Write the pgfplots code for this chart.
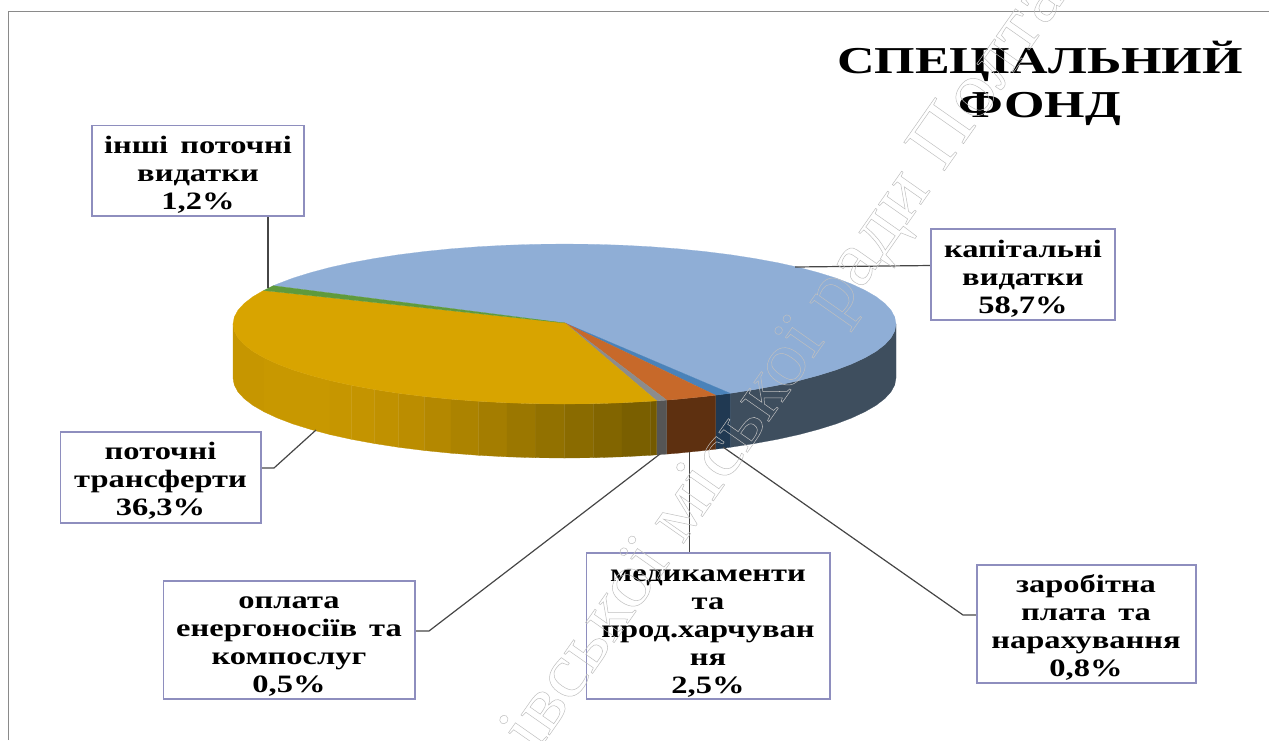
\documentclass[border=0pt]{standalone}
\usepackage{fontspec}
\setmainfont{Liberation Serif}[FakeStretch=1.3,WordSpace=1.5]
\newfontfamily\ttl{Liberation Serif}[FakeStretch=1.37]
\newfontfamily\wm{Liberation Serif}[FakeStretch=1.085]
\usepackage{pgfplots}
\pgfplotsset{compat=1.18}
\definecolor{cblue}{RGB}{143,174,214}
\definecolor{cdblue}{RGB}{74,130,185}
\definecolor{corange}{RGB}{199,105,42}
\definecolor{cgrey}{RGB}{140,140,140}
\definecolor{cyellow}{RGB}{216,164,0}
\definecolor{cgreen}{RGB}{95,154,60}
\definecolor{wblue}{RGB}{62,78,94}
\definecolor{wdblue}{RGB}{32,57,82}
\definecolor{worange}{RGB}{94,48,16}
\definecolor{wgrey}{RGB}{85,85,85}
\definecolor{boxc}{RGB}{142,142,190}
\definecolor{leader}{RGB}{70,70,70}
\definecolor{frame}{RGB}{138,138,138}
\newcommand{\lbl}[3]{\node[align=center,font=\fontsize{25}{28}\selectfont\bfseries,inner sep=0pt] at (axis cs:#1,#2) {#3};}
\newcommand{\bx}[4]{\draw[boxc,line width=1.5pt,fill=white] (axis cs:#1,#2) rectangle (axis cs:#3,#4);}
\newcommand{\strip}[4]{\addplot[fill={rgb,255:red,#1;green,#2;blue,#3},draw={rgb,255:red,#1;green,#2;blue,#3},line width=0.3pt,mark=none] coordinates {#4} -- cycle;}
\begin{document}
\begin{tikzpicture}
\useasboundingbox (0,0) rectangle (1269pt,740pt);
\begin{axis}[
  at={(0,0)},anchor=south west,
  width=1269pt,height=740pt,scale only axis,
  xmin=0,xmax=1269,ymin=0,ymax=740,y dir=reverse,
  axis lines=none,clip=true,
]
% frame
\addplot[frame,line width=1.5pt,mark=none] coordinates {(8.5,740)(8.5,11.5)(1269,11.5)};
% walls
\addplot[fill=wblue,draw=wblue,line width=0.2pt,mark=none] coordinates {(896,324)(894.7,331)(891,337.9)(884.7,344.7)(876,351.4)(864.9,357.8)(851.6,364)(836.1,369.9)(818.4,375.4)(798.9,380.6)(777.6,385.3)(754.7,389.5)(730.3,393.3)(730.3,447.3)(754.7,443.5)(777.6,439.3)(798.9,434.6)(818.4,429.4)(836.1,423.9)(851.6,418)(864.9,411.8)(876,405.4)(884.7,398.7)(891,391.9)(894.7,385)(896,378)} -- cycle;
\addplot[fill=wdblue,draw=wdblue,line width=0.2pt,mark=none] coordinates {(730.3,393.3)(715.5,395.2)(715.5,449.2)(730.3,447.3)} -- cycle;
\addplot[fill=worange,draw=worange,line width=0.2pt,mark=none] coordinates {(715.5,395.2)(704.6,396.5)(677.9,399.2)(666.7,400.1)(666.7,454.1)(677.9,453.2)(704.6,450.5)(715.5,449.2)} -- cycle;
\addplot[fill=wgrey,draw=wgrey,line width=0.2pt,mark=none] coordinates {(666.7,400.1)(656.7,400.8)(656.7,454.8)(666.7,454.1)} -- cycle;
% yellow wall, strip by strip
\strip{198}{150}{0}{(233,324)(234.3,331)(238,337.9)(244.3,344.7)(253,351.4)(264.1,357.8)(264.1,411.8)(253,405.4)(244.3,398.7)(238,391.9)(234.3,385)(233,378)}
\strip{200}{152}{0}{(264.1,357.8)(277.4,364)(292.9,369.9)(292.9,423.9)(277.4,418)(264.1,411.8)}
\strip{200}{152}{0}{(292.9,369.9)(310.6,375.4)(330.1,380.6)(330.1,434.6)(310.6,429.4)(292.9,423.9)}
\strip{198}{150}{0}{(330.1,380.6)(351.4,385.3)(351.4,439.3)(330.1,434.6)}
\strip{196}{148}{0}{(351.4,385.3)(374.3,389.5)(374.3,443.5)(351.4,439.3)}
\strip{192}{145}{0}{(374.3,389.5)(398.7,393.3)(398.7,447.3)(374.3,443.5)}
\strip{187}{141}{0}{(398.7,393.3)(424.4,396.5)(424.4,450.5)(398.7,447.3)}
\strip{180}{136}{0}{(424.4,396.5)(451.1,399.2)(451.1,453.2)(424.4,450.5)}
\strip{172}{131}{0}{(451.1,399.2)(478.7,401.3)(478.7,455.3)(451.1,453.2)}
\strip{164}{125}{0}{(478.7,401.3)(507,402.8)(507,456.8)(478.7,455.3)}
\strip{155}{119}{0}{(507,402.8)(535.6,403.7)(535.6,457.7)(507,456.8)}
\strip{146}{113}{0}{(535.6,403.7)(564.5,404)(564.5,458)(535.6,457.7)}
\strip{138}{107}{0}{(564.5,404)(593.4,403.7)(593.4,457.7)(564.5,458)}
\strip{130}{101}{0}{(593.4,403.7)(622,402.8)(622,456.8)(593.4,457.7)}
\strip{122}{95}{0}{(622,402.8)(650.3,401.3)(650.3,455.3)(622,456.8)}
\strip{116}{90}{0}{(650.3,401.3)(656.7,400.8)(656.7,454.8)(650.3,455.3)}
% top faces
\addplot[fill=cblue,draw=cblue,line width=0.2pt,mark=none] coordinates {(565,323)(730.3,393.3)(754.7,389.5)(777.6,385.3)(798.9,380.6)(818.4,375.4)(836.1,369.9)(851.6,364)(864.9,357.8)(876,351.4)(884.7,344.7)(891,337.9)(894.7,331)(896,324)(894.7,317)(891,310.1)(884.7,303.3)(876,296.6)(864.9,290.2)(851.6,284)(836.1,278.1)(818.4,272.6)(798.9,267.4)(777.6,262.7)(754.7,258.5)(730.3,254.7)(704.6,251.5)(677.9,248.8)(650.3,246.7)(622,245.2)(593.4,244.3)(564.5,244)(535.6,244.3)(507,245.2)(478.7,246.7)(451.1,248.8)(424.4,251.5)(398.7,254.7)(374.3,258.5)(351.4,262.7)(330.1,267.4)(310.6,272.6)(292.9,278.1)(277.4,284)(273.3,285.7)} -- cycle;
\addplot[fill=cdblue,draw=cdblue,line width=0.2pt,mark=none] coordinates {(565,323)(715.5,395.2)(730.3,393.3)} -- cycle;
\addplot[fill=corange,draw=corange,line width=0.2pt,mark=none] coordinates {(565,323)(666.7,400.1)(677.9,399.2)(704.6,396.5)(715.5,395.2)} -- cycle;
\addplot[fill=cgrey,draw=cgrey,line width=0.2pt,mark=none] coordinates {(565,323)(656.7,400.8)(666.7,400.1)} -- cycle;
\addplot[fill=cyellow,draw=cyellow,line width=0.2pt,mark=none] coordinates {(565,323)(656.7,400.8)(650.3,401.3)(622,402.8)(593.4,403.7)(564.5,404)(535.6,403.7)(507,402.8)(478.7,401.3)(451.1,399.2)(424.4,396.5)(398.7,393.3)(374.3,389.5)(351.4,385.3)(330.1,380.6)(310.6,375.4)(292.9,369.9)(277.4,364)(264.1,357.8)(253,351.4)(244.3,344.7)(238,337.9)(234.3,331)(233,324)(234.3,317)(238,310.1)(244.3,303.3)(253,296.6)(263.5,290.5)} -- cycle;
\addplot[fill=cgreen,draw=cgreen,line width=0.2pt,mark=none] coordinates {(565,323)(263.5,290.5)(273.3,285.7)} -- cycle;
% leaders
\addplot[leader,line width=1.2pt,mark=none] coordinates {(268,216)(268,288)};
\addplot[leader,line width=1.2pt,mark=none] coordinates {(931,265.5)(795,267)};
\addplot[leader,line width=1.2pt,mark=none] coordinates {(261,468)(274,468)(316,430)};
\addplot[leader,line width=1.2pt,mark=none] coordinates {(415,631)(429,631)(660,454)};
\addplot[leader,line width=1.2pt,mark=none] coordinates {(689.3,452)(689.3,553)};
\addplot[leader,line width=1.2pt,mark=none] coordinates {(723,447)(963,615)(977,615)};
% boxes
\bx{92}{125.5}{304}{216}
\bx{931}{229}{1115}{320}
\bx{60.5}{432}{261}{523}
\bx{163.5}{581}{415}{699}
\bx{586.5}{553}{830}{699}
\bx{977}{565}{1196}{683}
\lbl{198}{174.5}{інші поточні\\видатки\\1,2\%}
\lbl{1023}{278.5}{капітальні\\видатки\\58,7\%}
\lbl{160.5}{480.5}{поточні\\трансферти\\36,3\%}
\lbl{289}{647}{оплата\\енергоносіїв та\\компослуг\\0,5\%}
\lbl{708}{633.5}{медикаменти\\та\\прод.харчуван\\ня\\2,5\%}
\lbl{1086}{627.5}{заробітна\\плата та\\нарахування\\0,8\%}
\node[align=center,font=\fontsize{38}{44}\selectfont\ttl\bfseries,inner sep=0pt] at (axis cs:1040,83) {СПЕЦІАЛЬНИЙ\\ФОНД};
% watermark
\node[overlay,rotate=55,anchor=base west,inner sep=0pt,font=\fontsize{76}{80}\selectfont\wm] at (axis cs:943,173) {\special{pdf: code 1 Tr 0.5 w 0.75 0.75 0.75 RG}\llap{івської міської ради }Полта\special{pdf: code 0 Tr}};
\end{axis}
\end{tikzpicture}
\end{document}
